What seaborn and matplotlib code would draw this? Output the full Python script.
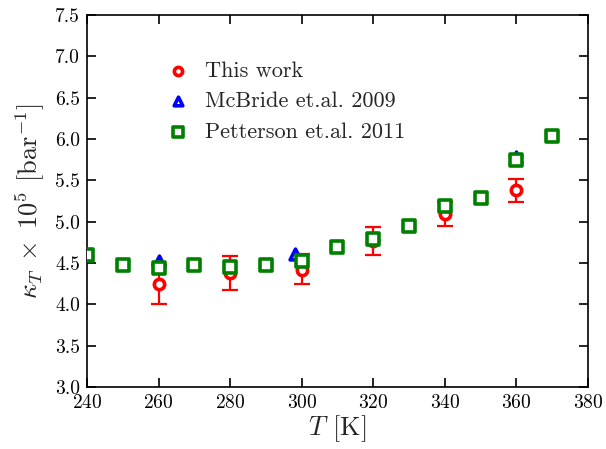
import numpy as np
import pandas as pd
import matplotlib
matplotlib.use("Agg")
import matplotlib.pyplot as plt
import seaborn as sns

# Data
this_T = [260, 280, 300, 320, 340, 360]
this_k = [4.24, 4.38, 4.42, 4.77, 5.09, 5.38]
this_lo = [4.00, 4.17, 4.24, 4.60, 4.95, 5.24]
this_hi = [4.48, 4.58, 4.61, 4.93, 5.24, 5.52]

mcb_T = [260, 298, 360]
mcb_k = [4.53, 4.61, 5.78]

pet_T = [240, 250, 260, 270, 280, 290, 300, 310, 320, 330, 340, 350, 360, 370]
pet_k = [4.60, 4.47, 4.44, 4.48, 4.45, 4.47, 4.53, 4.69, 4.79, 4.95, 5.19, 5.29, 5.75, 6.04]

labels = ["This work", "McBride et.al. 2009", "Petterson et.al. 2011"]

sns.set_theme(style="ticks")
plt.rcParams["font.family"] = ["cmr10", "DejaVu Serif"]
plt.rcParams["mathtext.fontset"] = "cm"
plt.rcParams["axes.formatter.use_mathtext"] = True

fig = plt.figure(figsize=(6.06, 4.49), dpi=100)
ax = fig.add_axes([87/606, 1-387/449, (588-87)/606, (387-15)/449])

df_this = pd.DataFrame({"T": this_T, "k": this_k})
df_mcb = pd.DataFrame({"T": mcb_T, "k": mcb_k})
df_pet = pd.DataFrame({"T": pet_T, "k": pet_k})

yerr = [np.array(this_k) - np.array(this_lo), np.array(this_hi) - np.array(this_k)]
ax.errorbar(this_T, this_k, yerr=yerr, fmt="none", ecolor="red",
            elinewidth=1.6, capsize=5.8, capthick=1.6, zorder=2)

sns.scatterplot(data=df_this, x="T", y="k", ax=ax, marker="o", s=55,
                facecolors="white", edgecolor="red", linewidth=2.6,
                label=labels[0], zorder=3)
sns.scatterplot(data=df_mcb, x="T", y="k", ax=ax, marker="^", s=60,
                facecolors="white", edgecolor="blue", linewidth=2.6,
                label=labels[1], zorder=4)
sns.scatterplot(data=df_pet, x="T", y="k", ax=ax, marker="s", s=70,
                facecolors="white", edgecolor="green", linewidth=2.6,
                label=labels[2], zorder=5)

ax.set_xlim(240, 380)
ax.set_ylim(3.0, 7.5)
ax.set_xticks(np.arange(240, 381, 20))
ax.set_yticks(np.arange(3.0, 7.51, 0.5))
ax.set_yticklabels([f"{v:.1f}" for v in np.arange(3.0, 7.51, 0.5)])
ax.tick_params(direction="in", length=6.5, width=1.2, top=True, right=True,
               labelsize=14, colors="black", pad=5)
for sp in ax.spines.values():
    sp.set_visible(True)
    sp.set_color("black")
    sp.set_linewidth(1.2)

ax.set_xlabel(r"$T$ [K]", fontsize=19, labelpad=1)
ax.set_ylabel(r"$\kappa_T\;\times\;10^5$ [bar$^{-1}$]", fontsize=19, labelpad=6)

leg = ax.legend(loc="upper left", bbox_to_anchor=(0.115, 0.93), frameon=False,
                fontsize=16, handletextpad=0.6, labelspacing=0.5,
                markerscale=0.8, handlelength=1.2)

fig.savefig("out.png", dpi=100)
